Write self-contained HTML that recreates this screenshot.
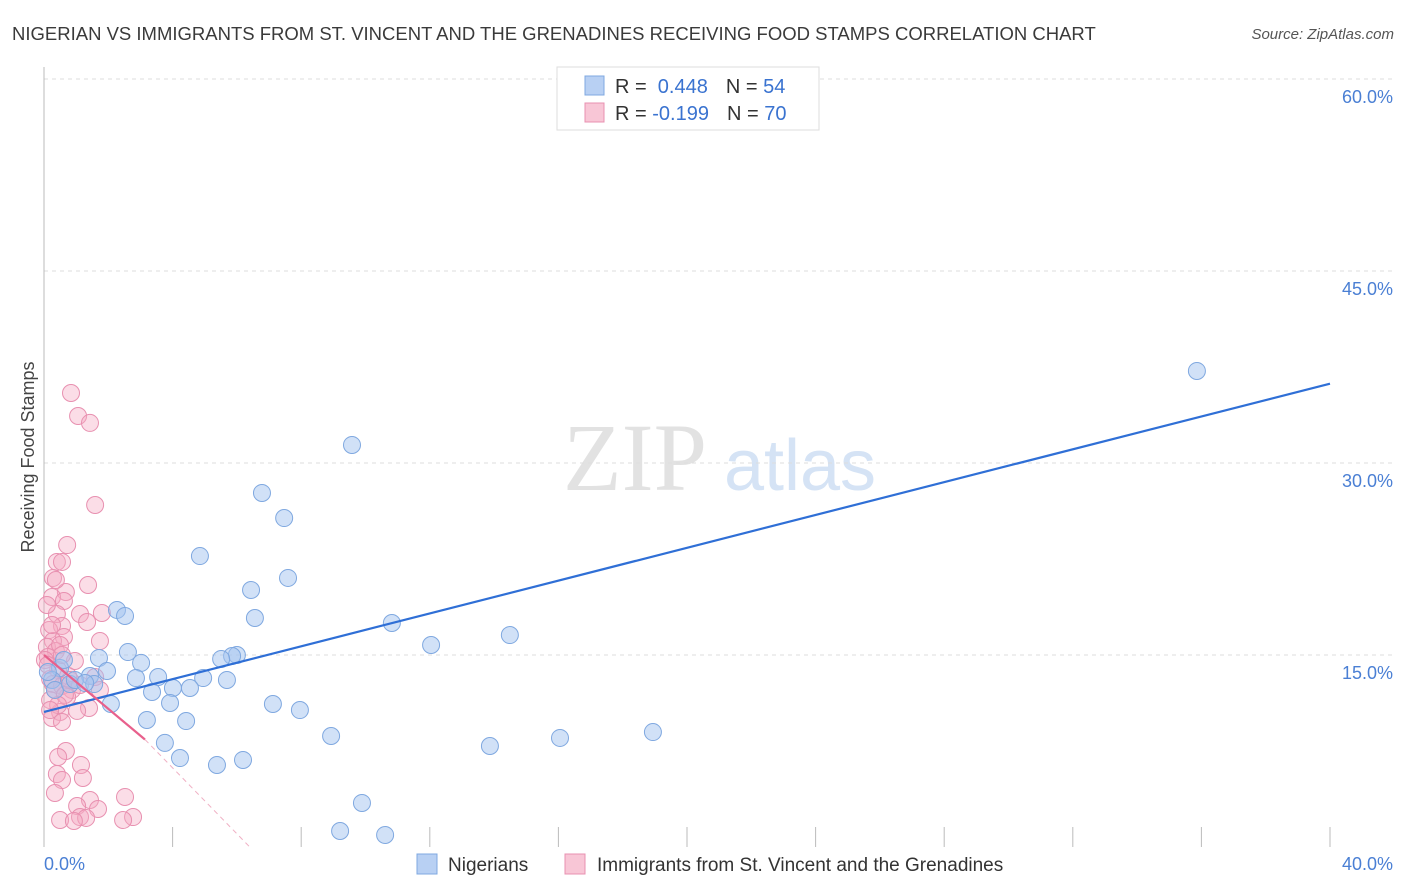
<!DOCTYPE html>
<html><head><meta charset="utf-8"><style>
body{margin:0;background:#fff;font-family:"Liberation Sans",sans-serif}
#wrap{position:relative;width:1406px;height:892px;overflow:hidden}
</style></head><body>
<div id="wrap">
<svg id="svg" width="1406" height="892" xmlns="http://www.w3.org/2000/svg">
<text x="12" y="40" font-size="18.5" fill="#3a3a3a">NIGERIAN VS IMMIGRANTS FROM ST. VINCENT AND THE GRENADINES RECEIVING FOOD STAMPS CORRELATION CHART</text>
<text x="1394" y="39" font-size="15" fill="#555" text-anchor="end" font-style="italic">Source: ZipAtlas.com</text>
<text transform="translate(34,457) rotate(-90)" font-size="18" fill="#444" text-anchor="middle">Receiving Food Stamps</text>
<g>
<text x="635" y="490" font-size="96" fill="#e2e2e2" font-family="Liberation Serif,serif" text-anchor="middle">ZIP</text>
<text x="800" y="490" font-size="72" fill="#d5e3f5" text-anchor="middle">atlas</text>
</g>
<g id="grid"></g><g id="ticks"></g><g id="pts"></g><g id="lines"></g>
<g>
<rect x="557" y="67" width="262" height="63" fill="#fff" stroke="#ddd"/>
<rect x="585" y="76" width="19" height="19" fill="#b8d0f3" stroke="#7fa8e0"/>
<rect x="585" y="103" width="19" height="19" fill="#f8c6d6" stroke="#e890b0"/>
<text x="615" y="93" font-size="20" fill="#333">R = <tspan fill="#3a73d0">&#160;0.448</tspan><tspan dx="18" fill="#333">N = </tspan><tspan fill="#3a73d0">54</tspan></text>
<text x="615" y="120" font-size="20" fill="#333">R = <tspan fill="#3a73d0">-0.199</tspan><tspan dx="18" fill="#333">N = </tspan><tspan fill="#3a73d0">70</tspan></text>
</g>
<g>
<rect x="417" y="854" width="20" height="20" fill="#b8d0f3" stroke="#7fa8e0"/>
<text x="448" y="871" font-size="19" fill="#333">Nigerians</text>
<rect x="565" y="854" width="20" height="20" fill="#f8c6d6" stroke="#e890b0"/>
<text x="597" y="871" font-size="19" fill="#333">Immigrants from St. Vincent and the Grenadines</text>
</g>
</svg>
</div>
<script>
const yTicks=[15,30,45,60];
const yTickLabels=["15.0%","30.0%","45.0%","60.0%"];
const xTicks=[0,4,8,12,16,20,24,28,32,36,40];
const blueX=[35.86,9.58,6.78,7.47,4.85,7.59,6.44,2.27,2.52,6.56,10.82,14.49,12.04,2.61,1.71,6.00,5.85,5.51,3.02,1.96,0.50,3.55,2.86,4.95,5.69,1.43,1.56,4.01,4.54,3.36,3.92,2.08,7.12,7.96,3.20,4.42,8.93,3.76,13.87,16.05,18.94,4.23,5.38,6.19,9.89,9.21,10.61,0.25,0.34,0.81,0.96,1.28,0.12,0.62];
const blueY=[37.19,31.41,27.66,25.70,22.73,21.02,20.08,18.52,18.05,17.89,17.50,16.56,15.78,15.23,14.77,15.0,14.92,14.69,14.38,13.75,13.98,13.28,13.20,13.20,13.05,13.36,12.73,12.42,12.42,12.11,11.25,11.17,11.17,10.70,9.92,9.84,8.67,8.13,7.89,8.52,8.98,6.95,6.41,6.80,3.44,1.25,0.94,13.05,12.27,12.73,13.05,12.81,13.67,14.61];
const pinkX=[0.84,1.06,1.43,1.59,0.72,0.40,0.56,0.28,1.37,0.68,0.25,0.62,1.12,1.80,0.40,1.34,0.56,0.16,0.62,0.28,1.74,0.09,0.37,0.12,0.96,0.44,0.75,0.19,1.59,0.28,0.56,0.87,0.72,1.40,1.03,0.50,0.25,0.56,0.68,0.44,1.15,0.40,1.21,0.56,0.34,1.43,2.52,1.03,1.68,1.12,2.77,0.50,1.31,0.93,2.46,0.19,0.03,0.12,0.34,0.65,0.44,0.19,0.81,0.50,0.25,0.09,0.37,0.56,1.12,1.74];
const pinkY=[35.47,33.67,33.13,26.72,23.59,22.27,22.27,21.02,20.47,19.92,19.53,19.22,18.20,18.28,18.20,17.58,17.27,16.95,16.41,16.09,16.09,15.63,15.31,14.84,14.53,13.83,13.36,13.13,13.28,12.73,12.58,12.27,11.72,10.86,10.63,10.55,10.08,9.77,7.50,7.03,6.41,5.70,5.39,5.23,4.22,3.67,3.91,3.20,2.97,2.34,2.34,2.11,2.27,2.03,2.11,11.48,14.61,14.22,12.27,11.88,11.09,10.70,13.05,15.78,17.34,18.91,20.86,15.0,12.66,12.27];
const blueTrend=[[0,10.55],[40,36.2]];
const pinkTrend=[[0,15.0],[3.14,8.4]];
const pinkTrendDash=[[3.14,8.4],[6.4,0]];

const X0=44,X1=1330,Y0=847,YPX=12.8;
const sx=v=>X0+v*(X1-X0)/40;
const sy=v=>Y0-v*YPX;
const NS="http://www.w3.org/2000/svg";
function mk(tag,attrs,parent){const e=document.createElementNS(NS,tag);for(const k in attrs)e.setAttribute(k,attrs[k]);parent.appendChild(e);return e;}
const grid=document.getElementById('grid'),ticks=document.getElementById('ticks'),pts=document.getElementById('pts'),lines=document.getElementById('lines');
yTicks.forEach((t,i)=>{
 const l=mk('line',{x1:X0,x2:1394,y1:sy(t),y2:sy(t),stroke:'#ddd','stroke-dasharray':'4,4'},grid);
 
 
 const tx=mk('text',{x:1393,y:sy(t)+24,'font-size':18,fill:'#4a7fd4','text-anchor':'end'},ticks);
 tx.textContent=yTickLabels[i];
 
 
});
const ax=mk('line',{x1:X0,x2:X0,y1:67,y2:Y0,stroke:'#bbb'},grid);


xTicks.forEach(t=>{
 const l=mk('line',{x1:sx(t),x2:sx(t),y1:827,y2:Y0,stroke:'#bbb'},grid);
 
 
});
const xl0=mk('text',{x:44,y:870,'font-size':18,fill:'#4a7fd4'},ticks);xl0.textContent='0.0%';


const xl1=mk('text',{x:1393,y:870,'font-size':18,fill:'#4a7fd4','text-anchor':'end'},ticks);xl1.textContent='40.0%';


pinkX.forEach((x,i)=>{
 const c=mk('circle',{cx:sx(x),cy:sy(pinkY[i]),r:8.5,fill:'rgba(245,170,195,0.4)',stroke:'#e890b0','stroke-width':1},pts);
 
 
});
blueX.forEach((x,i)=>{
 const c=mk('circle',{cx:sx(x),cy:sy(blueY[i]),r:8.5,fill:'rgba(164,196,240,0.5)',stroke:'#7fa8e0','stroke-width':1},pts);
 
 
});
const bl=mk('line',{x1:sx(blueTrend[0][0]),y1:sy(blueTrend[0][1]),x2:sx(blueTrend[1][0]),y2:sy(blueTrend[1][1]),stroke:'#2f6fd6','stroke-width':2.2},lines);


const pl=mk('line',{x1:sx(pinkTrend[0][0]),y1:sy(pinkTrend[0][1]),x2:sx(pinkTrend[1][0]),y2:sy(pinkTrend[1][1]),stroke:'#e8608c','stroke-width':2.2},lines);


const pd=mk('line',{x1:sx(pinkTrendDash[0][0]),y1:sy(pinkTrendDash[0][1]),x2:sx(pinkTrendDash[1][0]),y2:sy(pinkTrendDash[1][1]),stroke:'#f0b0c4','stroke-width':1,'stroke-dasharray':'5,4'},lines);


</script>
</body></html>
